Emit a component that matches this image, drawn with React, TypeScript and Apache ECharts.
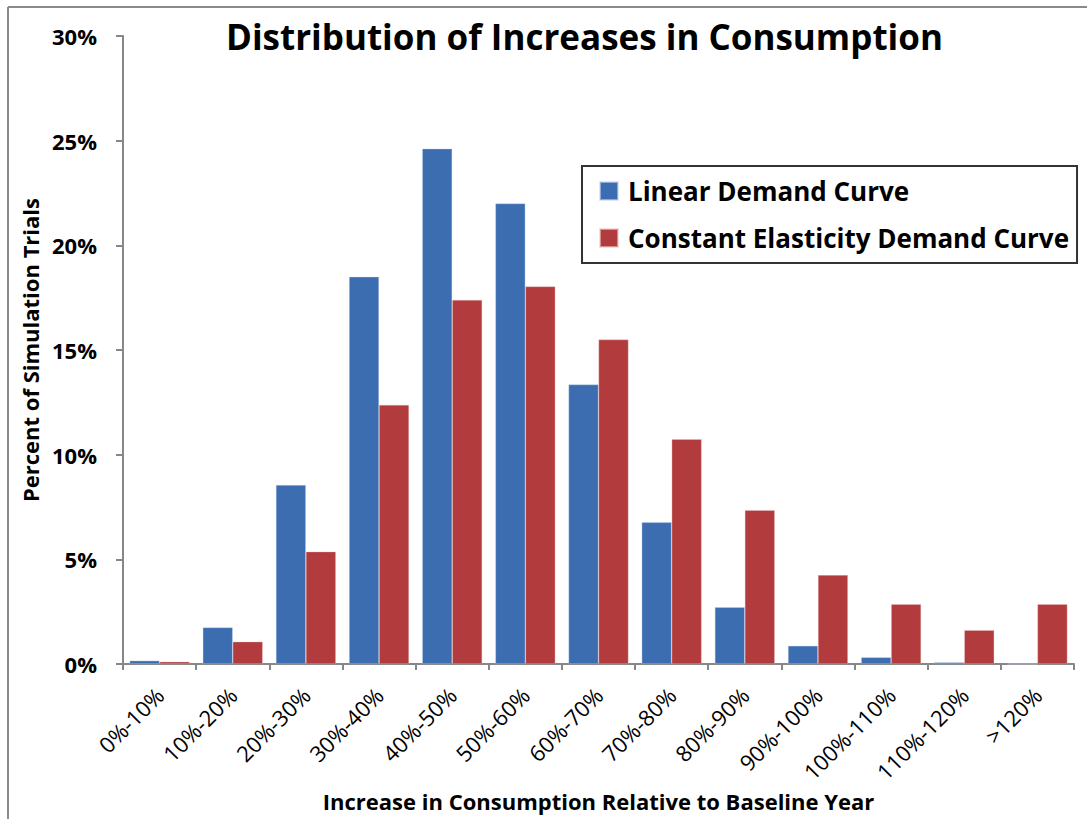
import React, { useEffect, useRef } from "react";
import * as echarts from "echarts";

const categories = [
  "0%-10%", "10%-20%", "20%-30%", "30%-40%", "40%-50%", "50%-60%", "60%-70%",
  "70%-80%", "80%-90%", "90%-100%", "100%-110%", "110%-120%", ">120%",
];
const linearDemand = [0.16, 1.75, 8.55, 18.5, 24.62, 22.0, 13.35, 6.77, 2.71, 0.87, 0.32, 0.08, 0];
const constantElasticity = [0.11, 1.07, 5.37, 12.38, 17.39, 18.04, 15.5, 10.74, 7.35, 4.25, 2.86, 1.62, 2.86];
const seriesNames = ["Linear Demand Curve", "Constant Elasticity Demand Curve"];
const titleText = "Distribution of Increases in Consumption";
const xAxisName = "Increase in Consumption Relative to Baseline Year";
const yAxisName = "Percent of Simulation Trials";

const FONT = "'Open Sans', 'Noto Sans', sans-serif";

export default function App() {
  const ref = useRef<HTMLDivElement>(null);
  useEffect(() => {
    if (!ref.current) return;
    const chart = echarts.init(ref.current, null, { renderer: "svg" });
    chart.setOption({
      animation: false,
      backgroundColor: "#ffffff",
      textStyle: { fontFamily: FONT },
      title: {
        text: titleText,
        left: 221,
        top: 14,
        textStyle: { fontFamily: FONT, fontWeight: "bold", fontSize: 35, color: "#000" },
      },
      legend: {
        orient: "vertical",
        left: 582,
        top: 166,
        padding: [12, 8, 12, 17],
        itemGap: 21,
        itemWidth: 18,
        itemHeight: 18,
        borderColor: "#333",
        borderWidth: 2,
        icon: "rect",
        data: seriesNames,
        textStyle: {
          fontFamily: FONT,
          fontWeight: "bold",
          fontSize: 26,
          color: "#000",
          padding: [0, 0, 0, 5],
        },
      },
      graphic: [
        { type: "line", shape: { x1: 8, y1: 7, x2: 1087, y2: 7 }, style: { stroke: "#8a8a8a", lineWidth: 2 } },
        { type: "line", shape: { x1: 8, y1: 7, x2: 8, y2: 819 }, style: { stroke: "#8a8a8a", lineWidth: 2 } },
      ],
      grid: { left: 123, right: 13, top: 36, bottom: 155 },
      xAxis: {
        type: "category",
        data: categories,
        name: xAxisName,
        nameLocation: "middle",
        nameGap: 126,
        nameTextStyle: { fontFamily: FONT, fontWeight: "bold", fontSize: 22, color: "#000" },
        axisLine: { lineStyle: { color: "#878787", width: 2 } },
        axisTick: { show: true, length: 6, lineStyle: { color: "#878787", width: 2 } },
        axisLabel: {
          rotate: 45,
          interval: 0,
          margin: 27,
          fontFamily: FONT,
          fontSize: 22,
          color: "#000",
        },
      },
      yAxis: {
        type: "value",
        min: 0,
        max: 30,
        interval: 5,
        name: yAxisName,
        nameLocation: "middle",
        nameGap: 80,
        nameRotate: 90,
        nameTextStyle: { fontFamily: FONT, fontWeight: "bold", fontSize: 22, color: "#000" },
        axisLine: { show: true, lineStyle: { color: "#878787", width: 2 } },
        axisTick: { show: true, length: 7, lineStyle: { color: "#878787", width: 2 } },
        splitLine: { show: false },
        axisLabel: {
          formatter: "{value}%",
          margin: 26,
          fontFamily: FONT,
          fontWeight: "bold",
          fontSize: 22,
          color: "#000",
        },
      },
      series: [
        {
          name: seriesNames[0],
          type: "bar",
          data: linearDemand,
          barGap: "0%",
          barCategoryGap: "18%",
          itemStyle: { color: "#3C6DB0", borderColor: "rgba(200,215,240,0.6)", borderWidth: 0.6 },
        },
        {
          name: seriesNames[1],
          type: "bar",
          data: constantElasticity,
          barGap: "0%",
          barCategoryGap: "18%",
          itemStyle: { color: "#B23B3E", borderColor: "rgba(240,200,200,0.6)", borderWidth: 0.6 },
        },
      ],
    });
    return () => chart.dispose();
  }, []);
  return (
    <div
      ref={ref}
      style={{ position: "fixed", left: 0, top: 0, width: 1087, height: 819, background: "#fff" }}
    />
  );
}
